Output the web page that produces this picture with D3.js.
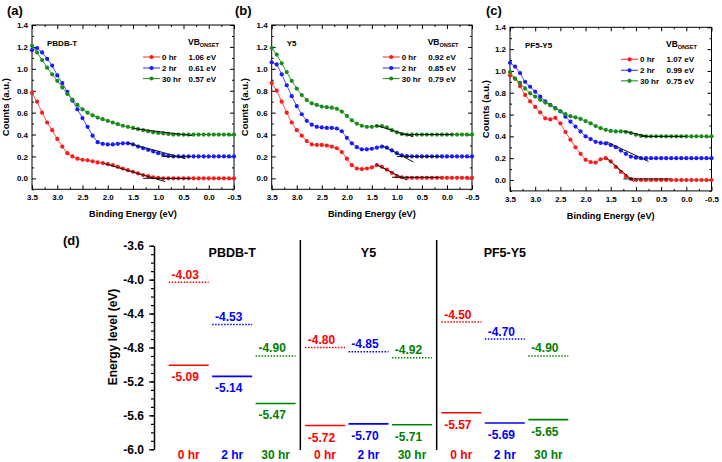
<!DOCTYPE html>
<html><head><meta charset="utf-8">
<script src="https://cdn.jsdelivr.net/npm/d3@7"></script>
<style>
body{margin:0;background:#fff;}
svg{display:block;font-family:Arial,"Liberation Sans",sans-serif;font-weight:bold;}
</style></head><body>
<svg id="chart" width="722" height="462"></svg>
<script>
// ---------- DATA: UPS valence band spectra ----------
const energy = [3.5,3.4,3.3,3.2,3.1,3.0,2.9,2.8,2.7,2.6,2.5,2.4,2.3,2.2,2.1,2.0,1.9,1.8,1.7,1.6,1.5,1.4,1.3,1.2,1.1,1.0,0.9,0.8,0.7,0.6,0.5,0.4,0.3,0.2,0.1,0.0,-0.1,-0.2,-0.3,-0.4,-0.5];
const timeLabels = ["0 hr","2 hr","30 hr"];

const pbdbT_0hr  = [0.78,0.70,0.60,0.51,0.44,0.36,0.29,0.23,0.20,0.18,0.17,0.165,0.155,0.145,0.14,0.13,0.12,0.105,0.09,0.075,0.06,0.045,0.03,0.02,0.01,0.005,0,0,0,0,0,0,0,0,0,0,0,0,0,0,0];
const pbdbT_2hr  = [1.17,1.19,1.15,1.09,1.03,0.94,0.87,0.79,0.71,0.63,0.55,0.47,0.39,0.33,0.315,0.31,0.31,0.315,0.32,0.32,0.31,0.29,0.275,0.26,0.245,0.23,0.215,0.205,0.20,0.20,0.20,0.20,0.20,0.20,0.20,0.20,0.20,0.20,0.20,0.20,0.20];
const pbdbT_30hr = [1.21,1.15,1.08,1.01,0.95,0.89,0.83,0.77,0.72,0.67,0.63,0.60,0.575,0.555,0.54,0.525,0.51,0.495,0.48,0.47,0.46,0.45,0.44,0.43,0.42,0.415,0.41,0.405,0.40,0.40,0.40,0.40,0.40,0.40,0.40,0.40,0.40,0.40,0.40,0.40,0.40];

const y5_0hr  = [0.87,0.80,0.70,0.60,0.51,0.44,0.39,0.34,0.31,0.305,0.305,0.30,0.29,0.275,0.24,0.18,0.12,0.09,0.085,0.09,0.10,0.12,0.105,0.08,0.05,0.02,0.01,0.005,0.005,0.005,0.005,0.005,0.005,0.005,0.005,0.005,0.005,0.005,0.005,0.005,0.005];
const y5_2hr  = [1.06,1.04,0.95,0.85,0.75,0.66,0.585,0.525,0.49,0.47,0.465,0.46,0.46,0.455,0.43,0.37,0.32,0.285,0.265,0.265,0.27,0.28,0.29,0.28,0.255,0.23,0.21,0.202,0.20,0.20,0.20,0.20,0.20,0.20,0.20,0.20,0.20,0.20,0.20,0.20,0.20];
const y5_30hr = [1.19,1.13,1.05,0.97,0.89,0.82,0.76,0.715,0.685,0.67,0.655,0.65,0.645,0.635,0.61,0.57,0.53,0.50,0.48,0.47,0.47,0.478,0.478,0.465,0.44,0.42,0.405,0.40,0.40,0.40,0.40,0.40,0.40,0.40,0.40,0.40,0.40,0.40,0.40,0.40,0.40];

const pf5_0hr  = [0.96,0.93,0.86,0.78,0.72,0.67,0.62,0.565,0.555,0.57,0.52,0.44,0.37,0.30,0.24,0.185,0.165,0.16,0.19,0.20,0.17,0.12,0.075,0.035,0.01,0,0,0,0,0,0,0,0,0,0,0,0,0,0,0,0];
const pf5_2hr  = [1.075,1.04,0.98,0.90,0.855,0.81,0.765,0.72,0.69,0.66,0.63,0.58,0.535,0.49,0.445,0.40,0.375,0.35,0.34,0.335,0.32,0.30,0.27,0.24,0.215,0.205,0.20,0.20,0.20,0.20,0.20,0.20,0.20,0.20,0.20,0.20,0.20,0.20,0.20,0.20,0.20];
const pf5_30hr = [0.99,0.93,0.89,0.84,0.795,0.765,0.735,0.71,0.685,0.655,0.63,0.605,0.585,0.575,0.56,0.54,0.52,0.495,0.475,0.46,0.45,0.445,0.445,0.44,0.43,0.415,0.405,0.40,0.40,0.40,0.40,0.40,0.40,0.40,0.40,0.40,0.40,0.40,0.40,0.40,0.40];

const onsetA = ["1.06 eV","0.61 eV","0.57 eV"];
const onsetB = ["0.92 eV","0.85 eV","0.79 eV"];
const onsetC = ["1.07 eV","0.99 eV","0.75 eV"];

// linear onset fits [E1, v1, E2, v2]
const fitsA = [[2.08,0.137,0.86,-0.03],[1.3,0.0,0.35,0.0],[1.62,0.325,0.46,0.18],[0.93,0.2,0.35,0.2],[1.49,0.455,0.33,0.39]];
const fitsB = [[1.42,0.128,0.8,-0.015],[1.1,0.01,0.13,0.01],[1.3,0.30,0.67,0.15],[1.0,0.2,0.13,0.2],[1.43,0.485,0.67,0.38],[0.93,0.40,-0.1,0.40]];
const fitsC = [[1.58,0.20,1.04,-0.015],[1.25,0.01,0.32,0.01],[1.58,0.35,0.75,0.17],[1.25,0.45,0.72,0.395],[0.9,0.40,0.0,0.40]];

const xTicks = [3.5,3.0,2.5,2.0,1.5,1.0,0.5,0.0,-0.5];
const xMinor = [3.25,2.75,2.25,1.75,1.25,0.75,0.25,-0.25];
const yTicks = [0.0,0.2,0.4,0.6,0.8,1.0,1.2,1.4];
const yMinor = [-0.1,0.1,0.3,0.5,0.7,0.9,1.1,1.3];

// ---------- DATA: energy levels ----------
const groups = ["PBDB-T","Y5","PF5-Y5"];
const lumo = [-4.03,-4.53,-4.90,-4.80,-4.85,-4.92,-4.50,-4.70,-4.90];
const homo = [-5.09,-5.14,-5.47,-5.72,-5.70,-5.71,-5.57,-5.69,-5.65];
const homoPlotted = [-5.01,-5.14,-5.46,-5.72,-5.70,-5.71,-5.57,-5.69,-5.65];
const eTicks = [-3.6,-4.0,-4.4,-4.8,-5.2,-5.6,-6.0];

const colMark = ["#ff1a1a","#1a1aff","#1a8c1a"];
const colLine = ["#ff5050","#5050ff","#3a9a3a"];
const colD = ["#ff0000","#0000ff","#008000"];

const svg = d3.select("#chart");
const FONT = 'Arial, "Liberation Sans", sans-serif';

function styleAxis(g, size){
  g.attr("font-family",FONT).attr("font-size",size).attr("font-weight","bold");
  g.selectAll(".domain").remove();
  g.selectAll("line").attr("stroke","#000");
  g.selectAll("text").attr("fill","#000");
}

const panels = [
  {letter:"(a)", lx:7,   ly:15, name:"PBDB-T", x0:32,    x1:234,   yt:25,   yb:189.3, series:[pbdbT_0hr,pbdbT_2hr,pbdbT_30hr], onset:onsetA, fits:fitsA, ytx:9},
  {letter:"(b)", lx:235, ly:15, name:"Y5",     x0:271.7, x1:472,   yt:25,   yb:189.3, series:[y5_0hr,y5_2hr,y5_30hr],          onset:onsetB, fits:fitsB, ytx:248},
  {letter:"(c)", lx:486, ly:15, name:"PF5-Y5", x0:510,   x1:711.5, yt:27.3, yb:190.9, series:[pf5_0hr,pf5_2hr,pf5_30hr],       onset:onsetC, fits:fitsC, ytx:489}
];

panels.forEach(p=>{
  const x = d3.scaleLinear().domain([3.5,-0.5]).range([p.x0,p.x1]);
  const y = d3.scaleLinear().domain([-0.1,1.4]).range([p.yb,p.yt]);
  const g = svg.append("g");
  const fmt = d=>d.toFixed(1);

  g.append("g").attr("transform",`translate(${p.x0},0)`)
    .call(d3.axisLeft(y).tickValues(yTicks).tickSize(-4).tickPadding(4).tickFormat(fmt)).call(a=>styleAxis(a,8));
  g.append("g").attr("transform",`translate(${p.x0},0)`)
    .call(d3.axisLeft(y).tickValues(yMinor).tickSize(-2).tickFormat("")).call(a=>styleAxis(a,8));
  g.append("g").attr("transform",`translate(${p.x1},0)`)
    .call(d3.axisRight(y).tickValues(yTicks).tickSize(-4).tickFormat("")).call(a=>styleAxis(a,8));
  g.append("g").attr("transform",`translate(${p.x1},0)`)
    .call(d3.axisRight(y).tickValues(yMinor).tickSize(-2).tickFormat("")).call(a=>styleAxis(a,8));
  g.append("g").attr("transform",`translate(0,${p.yb})`)
    .call(d3.axisBottom(x).tickValues(xTicks).tickSize(-4).tickPadding(5).tickFormat(fmt)).call(a=>styleAxis(a,8));
  g.append("g").attr("transform",`translate(0,${p.yb})`)
    .call(d3.axisBottom(x).tickValues(xMinor).tickSize(-2).tickFormat("")).call(a=>styleAxis(a,8));
  g.append("g").attr("transform",`translate(0,${p.yt})`)
    .call(d3.axisTop(x).tickValues(xTicks).tickSize(-4).tickFormat("")).call(a=>styleAxis(a,8));
  g.append("g").attr("transform",`translate(0,${p.yt})`)
    .call(d3.axisTop(x).tickValues(xMinor).tickSize(-2).tickFormat("")).call(a=>styleAxis(a,8));

  g.append("rect").attr("x",p.x0).attr("y",p.yt).attr("width",p.x1-p.x0).attr("height",p.yb-p.yt)
    .attr("fill","none").attr("stroke","#000").attr("stroke-width",1);

  const line = d3.line().x(d=>x(d[0])).y(d=>y(d[1]));
  p.series.forEach((vals,i)=>{
    const pts = energy.map((e,k)=>[e,vals[k]]);
    g.append("path").attr("d",line(pts)).attr("fill","none").attr("stroke",colLine[i]).attr("stroke-width",1);
    g.selectAll(null).data(pts).enter().append("circle")
      .attr("cx",d=>x(d[0])).attr("cy",d=>y(d[1])).attr("r",2.1).attr("fill",colMark[i]);
  });
  p.fits.forEach(f=>{
    g.append("line").attr("x1",x(f[0])).attr("y1",y(f[1])).attr("x2",x(f[2])).attr("y2",y(f[3]))
      .attr("stroke","#111").attr("stroke-width",1);
  });

  const rows = [p.yt+32, p.yt+43, p.yt+53.5];
  timeLabels.forEach((t,i)=>{
    g.append("line").attr("x1",p.x0+111).attr("x2",p.x0+128).attr("y1",rows[i]).attr("y2",rows[i])
      .attr("stroke",colLine[i]).attr("stroke-width",1.2);
    g.append("circle").attr("cx",p.x0+119.5).attr("cy",rows[i]).attr("r",2.1).attr("fill",colMark[i]);
    g.append("text").attr("x",p.x0+130).attr("y",rows[i]+3).attr("font-size",8).text(t);
    g.append("text").attr("x",p.x0+156.5).attr("y",rows[i]+3).attr("font-size",8).text(p.onset[i]);
  });
  const vb = g.append("text").attr("x",p.x0+156).attr("y",p.yt+20).attr("font-size",8.5);
  vb.append("tspan").text("VB");
  vb.append("tspan").attr("font-size",5.5).attr("dy",2).text("ONSET");

  g.append("text").attr("x",p.x0+15).attr("y",p.yt+21).attr("font-size",8).text(p.name);
  g.append("text").attr("x",p.lx).attr("y",p.ly).attr("font-size",13).text(p.letter);
  g.append("text").attr("transform",`translate(${p.ytx},${(p.yt+p.yb)/2}) rotate(-90)`)
    .attr("text-anchor","middle").attr("font-size",9.5).text("Counts (a.u.)");
  g.append("text").attr("x",(p.x0+p.x1)/2).attr("y",p.yb+28).attr("text-anchor","middle")
    .attr("font-size",9.2).text("Binding Energy (eV)");
});

// ---------- panel (d) ----------
const dg = svg.append("g");
const yE = d3.scaleLinear().domain([-6.0,-3.6]).range([449.3,245.7]);
const gx = d3.scaleBand().domain(groups).range([164,573]);
const tx = d3.scaleBand().domain(timeLabels).range([0,gx.bandwidth()]).paddingInner(0.08).paddingOuter(0.108);

dg.append("g").attr("transform","translate(154,0)")
  .call(d3.axisLeft(yE).tickValues(eTicks).tickSize(5).tickSizeOuter(0).tickPadding(5).tickFormat(d=>d.toFixed(1)))
  .call(a=>{a.attr("font-family",FONT).attr("font-size",12).attr("font-weight","bold");
            a.select(".domain").attr("stroke","#000").attr("stroke-width",1.5);
            a.selectAll("line").attr("stroke","#000").attr("stroke-width",1.2);
            a.selectAll("text").attr("fill","#000");});
dg.append("g").attr("transform","translate(154,0)")
  .call(d3.axisLeft(yE).tickValues(d3.range(0,25).map(i=>-6+i*0.1)).tickSize(3).tickSizeOuter(0).tickFormat(""))
  .call(a=>{a.select(".domain").remove(); a.selectAll("line").attr("stroke","#000").attr("stroke-width",1.2);});

dg.append("text").attr("transform","translate(116.5,337) rotate(-90)").attr("text-anchor","middle")
  .attr("font-size",12).text("Energy level (eV)");
dg.append("text").attr("x",63).attr("y",245).attr("font-size",13).text("(d)");

[gx("Y5"), gx("PF5-Y5")].forEach(xp=>{
  dg.append("line").attr("x1",xp).attr("x2",xp).attr("y1",240).attr("y2",450)
    .attr("stroke","#000").attr("stroke-width",1.5);
});

groups.forEach((gname,gi)=>{
  dg.append("text").attr("x",gx(gname)+gx.bandwidth()/2).attr("y",256.5).attr("text-anchor","middle")
    .attr("font-size",12.5).attr("fill","#000").text(gname);
  timeLabels.forEach((t,ti)=>{
    const k = gi*3+ti;
    const x0 = gx(gname)+tx(t), w = tx.bandwidth(), xc = x0+w/2;
    dg.append("line").attr("x1",x0).attr("x2",x0+w).attr("y1",yE(lumo[k])).attr("y2",yE(lumo[k]))
      .attr("stroke",colD[ti]).attr("stroke-width",1.5).attr("stroke-dasharray","1.5,1.5");
    dg.append("line").attr("x1",x0).attr("x2",x0+w).attr("y1",yE(homoPlotted[k])).attr("y2",yE(homoPlotted[k]))
      .attr("stroke",colD[ti]).attr("stroke-width",1.6);
    dg.append("text").attr("x",xc-3.5).attr("y",yE(lumo[k])-3.5).attr("text-anchor","middle")
      .attr("font-size",12).attr("fill",colD[ti]).text(lumo[k].toFixed(2));
    dg.append("text").attr("x",xc-3.5).attr("y",yE(homoPlotted[k])+16).attr("text-anchor","middle")
      .attr("font-size",12).attr("fill",colD[ti]).text(homo[k].toFixed(2));
    dg.append("text").attr("x",xc).attr("y",458.5).attr("text-anchor","middle")
      .attr("font-size",12).attr("fill",colD[ti]).text(t);
  });
});
</script>
</body></html>
